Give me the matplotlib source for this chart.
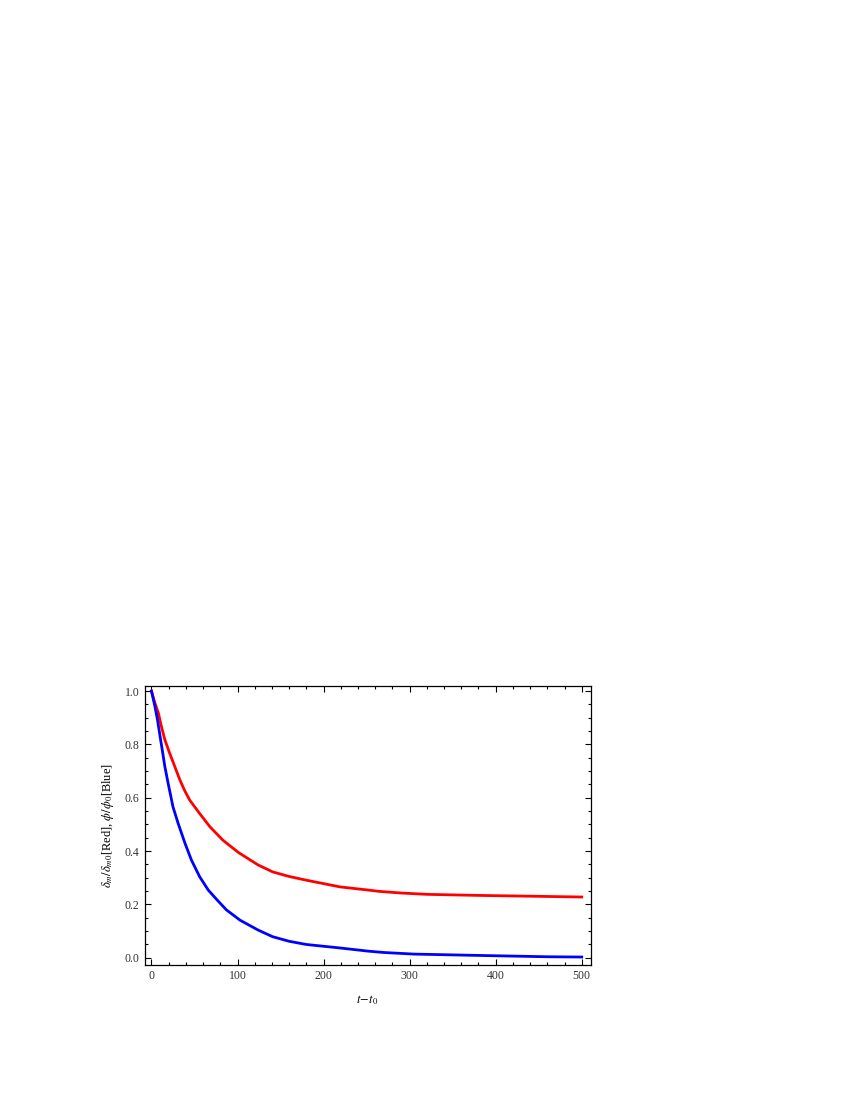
import matplotlib
matplotlib.use("Agg")
import matplotlib.pyplot as plt
from matplotlib.ticker import MultipleLocator

# Data
t_red = [0, 4, 8, 11.5, 15.5, 21, 27, 33, 39, 44.5, 56, 68, 83, 101, 124, 141,
         160, 180, 219, 252, 265, 290, 320, 380, 460, 500]
delta_red = [1.0, 0.955, 0.918, 0.868, 0.818, 0.768, 0.718, 0.667, 0.624, 0.591,
             0.541, 0.491, 0.441, 0.395, 0.348, 0.322, 0.305, 0.291, 0.266,
             0.254, 0.249, 0.243, 0.238, 0.234, 0.230, 0.228]

t_blue = [0, 4, 7, 10, 12.5, 15.5, 19, 25, 31, 39, 46.5, 56, 66, 76, 87, 103,
          124, 141, 160, 180, 219, 252, 270, 305, 380, 460, 500]
phi_blue = [1.0, 0.943, 0.892, 0.830, 0.780, 0.718, 0.66, 0.566, 0.504, 0.429,
            0.366, 0.304, 0.254, 0.218, 0.180, 0.141, 0.104, 0.079, 0.062,
            0.050, 0.037, 0.025, 0.020, 0.014, 0.009, 0.004, 0.003]

x_ticks = [0, 100, 200, 300, 400, 500]
y_ticks = [0.0, 0.2, 0.4, 0.6, 0.8, 1.0]

plt.rcParams['font.family'] = ['Liberation Serif', 'DejaVu Serif']
plt.rcParams['mathtext.fontset'] = 'stix'

fig = plt.figure(figsize=(8.5, 11), dpi=100)
ax = fig.add_axes([0.170, 0.1227, 0.525, 0.2539])

ax.plot(t_red, delta_red, color=(1, 0, 0), lw=2.0)
ax.plot(t_blue, phi_blue, color=(0, 0, 1), lw=2.0)

ax.set_xlim(-8.1, 510.5)
ax.set_ylim(-0.027, 1.02)
ax.set_xticks(x_ticks)
ax.set_yticks(y_ticks)
ax.set_yticklabels([f"{v:.1f}" for v in y_ticks])
ax.xaxis.set_minor_locator(MultipleLocator(20))
ax.yaxis.set_minor_locator(MultipleLocator(0.05))
ax.tick_params(which='both', direction='in', top=True, right=True,
               labelsize=8.5, labelcolor='#333333', width=0.8)
ax.tick_params(which='major', length=4)
ax.tick_params(which='minor', length=2)
for s in ax.spines.values():
    s.set_linewidth(0.9)

ax.set_xlabel(r"$t\!-\!t_0$", fontsize=9, labelpad=8)
ax.set_ylabel(r"$\delta_m/\delta_{m0}$[Red], $\phi/\phi_0$[Blue]", fontsize=9,
              labelpad=6)

fig.savefig("out.png", dpi=100)
